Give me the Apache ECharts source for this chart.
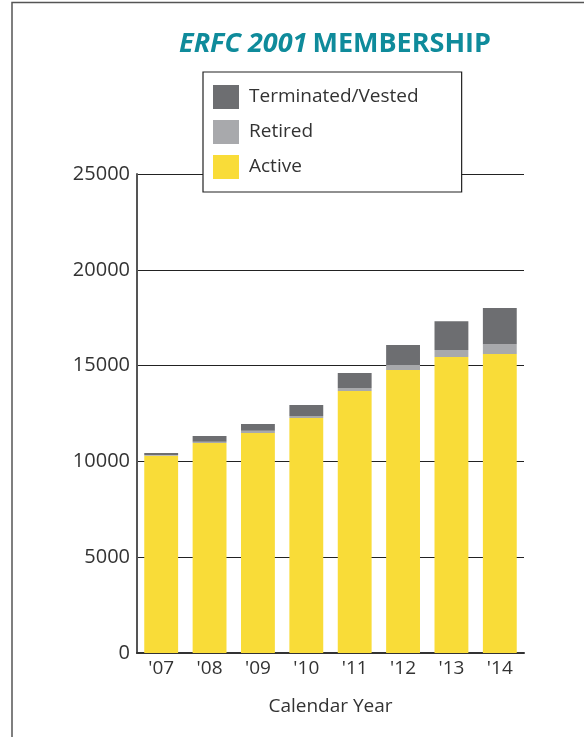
<!DOCTYPE html>
<html>
<head>
<meta charset="utf-8">
<script src="https://cdn.jsdelivr.net/npm/echarts@6/dist/echarts.min.js"></script>
<style>
  html, body { margin: 0; padding: 0; background: #fff; }
  #chart { width: 584px; height: 737px; }
</style>
</head>
<body>
<div id="chart"></div>
<script>
// 数据
var years = ["'07", "'08", "'09", "'10", "'11", "'12", "'13", "'14"];
var active = [10300, 10960, 11480, 12270, 13670, 14770, 15450, 15600];
var retired = [40, 70, 120, 100, 160, 260, 360, 520];
var terminated = [100, 300, 350, 570, 780, 1040, 1510, 1880];

var myChart = echarts.init(document.getElementById('chart'));
var font = '"Open Sans", "Noto Sans", sans-serif';

var option = {
    backgroundColor: '#fff',
    animation: false,
    title: {
        text: '{it|ERFC 2001} {b|MEMBERSHIP}',
        left: 174,
        top: 26,
        textStyle: {
            rich: {
                it: { fontStyle: 'italic', fontWeight: 'bold', fontSize: 27, color: '#0f8b9b', fontFamily: font },
                b: { fontWeight: 'bold', fontSize: 27, color: '#0f8b9b', fontFamily: font }
            }
        }
    },
    legend: {
        orient: 'vertical',
        left: 203,
        top: 72,
        data: ['Terminated/Vested', 'Retired', 'Active'],
        icon: 'rect',
        itemWidth: 26,
        itemHeight: 24,
        itemGap: 11,
        padding: [13, 43, 13, 10],
        backgroundColor: '#fff',
        borderColor: '#222',
        borderWidth: 1.2,
        z: 10,
        textStyle: { fontSize: 19, color: '#333', fontFamily: font, padding: [0, 0, 0, 5] }
    },
    grid: { left: 137, right: 60, top: 174, bottom: 84 },
    xAxis: {
        type: 'category',
        data: years,
        name: 'Calendar Year',
        nameLocation: 'middle',
        nameGap: 44,
        nameTextStyle: { fontSize: 19, color: '#333', fontFamily: font },
        axisTick: { show: false },
        axisLine: { lineStyle: { color: '#333', width: 2 } },
        axisLabel: { fontSize: 19, color: '#333', fontFamily: font, margin: 6 }
    },
    yAxis: {
        type: 'value',
        min: 0,
        max: 25000,
        interval: 5000,
        axisLine: { show: true, lineStyle: { color: '#555', width: 2 } },
        axisTick: { show: false },
        axisLabel: {
            fontSize: 20, color: '#333', fontFamily: font, margin: 7,
            formatter: function(v) { return String(v); }
        },
        splitLine: { lineStyle: { color: '#222', width: 1.2 } }
    },
    series: [
        { name: 'Active', type: 'bar', stack: 'm', data: active, barCategoryGap: '30%', itemStyle: { color: '#f9dc38' } },
        { name: 'Retired', type: 'bar', stack: 'm', data: retired, itemStyle: { color: '#a8a9ac' } },
        { name: 'Terminated/Vested', type: 'bar', stack: 'm', data: terminated, itemStyle: { color: '#6d6e71' } }
    ],
    graphic: [
        {
            type: 'polyline',
            silent: true,
            shape: { points: [[12, 737], [12, 2.5], [584, 2.5]] },
            style: { stroke: '#555', lineWidth: 1.5, fill: null }
        }
    ]
};

myChart.setOption(option);
window.addEventListener('resize', function() { myChart.resize(); });
</script>
</body>
</html>
